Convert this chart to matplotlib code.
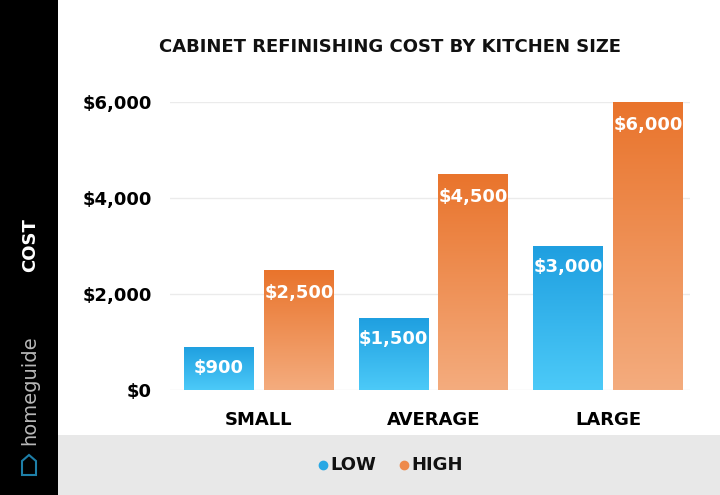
import numpy as np
import matplotlib
matplotlib.use('Agg')
import matplotlib.pyplot as plt
from matplotlib.patches import Rectangle, Polygon
from matplotlib.lines import Line2D
from matplotlib.colors import LinearSegmentedColormap

# Data
categories = ['SMALL', 'AVERAGE', 'LARGE']
low_values = [900, 1500, 3000]
high_values = [2500, 4500, 6000]
yticks = [0, 2000, 4000, 6000]
series_names = ['LOW', 'HIGH']

plt.rcParams['font.family'] = ['DejaVu Sans']

fig = plt.figure(figsize=(7.2, 4.95), dpi=100)
fig.patch.set_facecolor('white')

# black sidebar and grey legend band
fig.patches.append(Rectangle((0, 0), 58 / 720, 1, transform=fig.transFigure,
                             facecolor='black', zorder=0))
fig.patches.append(Rectangle((58 / 720, 0), 1 - 58 / 720, 60 / 495,
                             transform=fig.transFigure, facecolor='#e8e8e8', zorder=0))

ax = fig.add_axes([170 / 720, 105 / 495, 520 / 720, 288 / 495])

blue_cmap = LinearSegmentedColormap.from_list('b', ['#4ccaf8', '#1f9fe0'])
orange_cmap = LinearSegmentedColormap.from_list('o', ['#f4ac7e', '#e9742c'])

width = 0.4
off = 0.2286
x = np.arange(len(categories))


def grad_bar(xc, h, cmap):
    grad = np.linspace(0, 1, 256).reshape(-1, 1)
    im = ax.imshow(grad, cmap=cmap, aspect='auto', origin='lower',
                   extent=(xc - width / 2, xc + width / 2, 0, h), zorder=2)
    rect = Rectangle((xc - width / 2, 0), width, h, transform=ax.transData)
    im.set_clip_path(rect)


for i in range(len(categories)):
    grad_bar(x[i] - off, low_values[i], blue_cmap)
    grad_bar(x[i] + off, high_values[i], orange_cmap)
    ax.text(x[i] - off, low_values[i] - 440, '${:,}'.format(low_values[i]),
            ha='center', va='center', color='white', fontsize=13, fontweight='bold', zorder=3)
    ax.text(x[i] + off, high_values[i] - 470, '${:,}'.format(high_values[i]),
            ha='center', va='center', color='white', fontsize=13, fontweight='bold', zorder=3)

ax.set_xlim(-0.51, 2.47)
ax.set_ylim(0, 6000)

ax.set_yticks(yticks)
ax.set_yticklabels(['${:,}'.format(v) for v in yticks], fontsize=13, fontweight='bold')
ax.set_xticks(x)
ax.set_xticklabels(categories, fontsize=13, fontweight='bold')
ax.tick_params(axis='both', length=0)
ax.tick_params(axis='y', pad=13)
ax.tick_params(axis='x', pad=15)
ax.grid(axis='y', color='#ebebeb', linewidth=1, zorder=0)
ax.set_axisbelow(True)
for s in ax.spines.values():
    s.set_visible(False)

fig.text(390 / 720, 1 - 47 / 495, 'CABINET REFINISHING COST BY KITCHEN SIZE',
         ha='center', va='center', fontsize=13, fontweight='bold', color='#111111')

# sidebar texts
fig.text(30 / 720, 1 - 245 / 495, 'COST', rotation=90, ha='center', va='center',
         color='white', fontsize=13, fontweight='bold')
fig.text(30 / 720, 1 - 390 / 495, 'homeguide', rotation=90, ha='center', va='center',
         color='#b8b8b8', fontsize=14)
house = Polygon([(22 / 720, 1 - 475 / 495), (36 / 720, 1 - 475 / 495),
                 (36 / 720, 1 - 461 / 495), (29 / 720, 1 - 455 / 495),
                 (22 / 720, 1 - 461 / 495)], closed=True, transform=fig.transFigure,
                fill=False, edgecolor='#1e7fa8', linewidth=1.5)
fig.patches.append(house)

# legend
fig.add_artist(Line2D([323 / 720], [1 - 465 / 495], transform=fig.transFigure,
                      marker='o', markersize=6, color='#29a8e4', linestyle='none'))
fig.text(330 / 720, 1 - 465 / 495, series_names[0], ha='left', va='center',
         fontsize=13, fontweight='bold', color='#111111')
fig.add_artist(Line2D([404 / 720], [1 - 465 / 495], transform=fig.transFigure,
                      marker='o', markersize=6, color='#ee8a4c', linestyle='none'))
fig.text(411 / 720, 1 - 465 / 495, series_names[1], ha='left', va='center',
         fontsize=13, fontweight='bold', color='#111111')

fig.savefig('out.png', dpi=100)
